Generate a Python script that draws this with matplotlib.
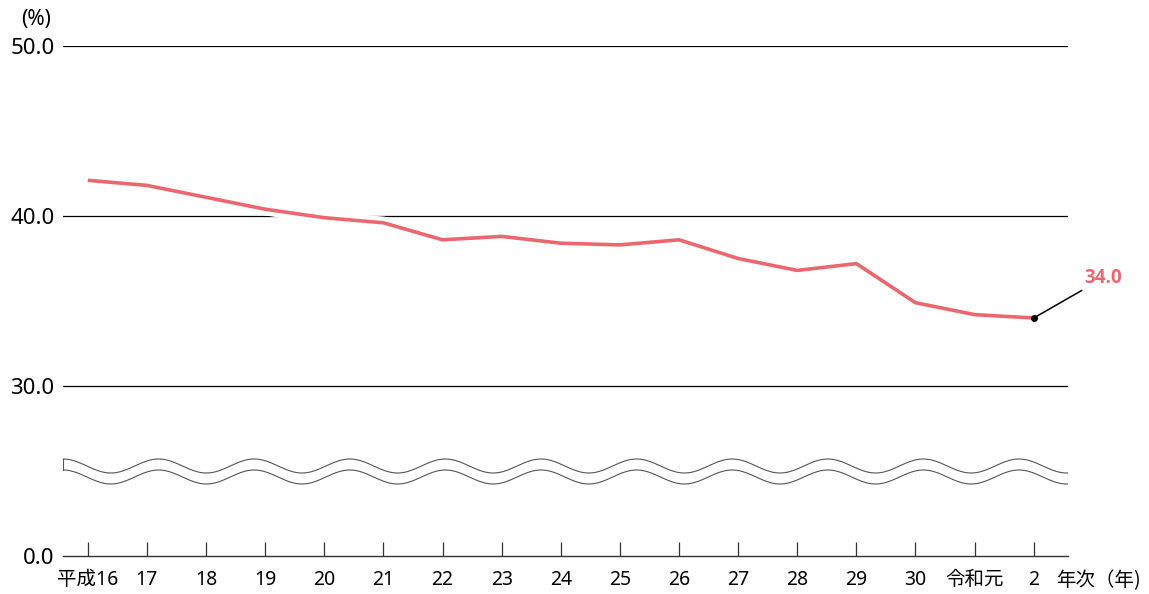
import numpy as np
import matplotlib
matplotlib.use("Agg")
import matplotlib.pyplot as plt
import matplotlib.patheffects as pe

plt.rcParams['font.family'] = ['Noto Sans', 'Noto Sans CJK JP', 'DejaVu Sans']

years = ["平成16", "17", "18", "19", "20", "21", "22", "23", "24", "25",
         "26", "27", "28", "29", "30", "令和元", "2"]
values = [42.1, 41.8, 41.1, 40.4, 39.9, 39.6, 38.6, 38.8, 38.4, 38.3,
          38.6, 37.5, 36.8, 37.2, 34.9, 34.2, 34.0]
yticks = [0.0, 30.0, 40.0, 50.0]
last_label = "34.0"

line_color = "#EB6770"


def fwd(v):
    v = np.asarray(v, dtype=float)
    return np.where(v >= 30, v, 20 + v / 3.0)


def inv(p):
    p = np.asarray(p, dtype=float)
    return np.where(p >= 30, p, (p - 20) * 3.0)


fig = plt.figure(figsize=(11.49, 5.94), dpi=100)
ax = fig.add_axes([63 / 1149, 1 - 556 / 594, (1068 - 63) / 1149, (556 - 46) / 594])
ax.set_yscale('function', functions=(fwd, inv))
x = np.arange(len(years))
ax.set_xlim(-0.42, len(years) - 1 + 0.58)
ax.set_ylim(0, 50)

for s in ['left', 'right', 'top']:
    ax.spines[s].set_visible(False)
ax.spines['bottom'].set_color('#333333')
ax.spines['bottom'].set_linewidth(1.0)

for g in [30, 40, 50]:
    ax.axhline(g, color='black', lw=0.9, zorder=1)

ax.set_yticks(yticks)
ax.set_yticklabels([f"{v:.1f}" for v in yticks], fontsize=16)
ax.tick_params(axis='y', length=0, pad=6)
ax.set_xticks(x)
ax.set_xticklabels(years, fontsize=14)
ax.tick_params(axis='x', direction='in', length=10, width=0.9, color='#333333', pad=10)

# wave break
xs = np.linspace(-0.42, len(years) - 1 + 0.58, 800)
px = (xs - (-0.42)) / (len(years)) * 1005.0
period = 95.6
wave = np.cos(2 * np.pi * px / period)
top = 40 - (466 - 216) / 17.0 + (7 / 17.0) * wave
bot = 40 - (477 - 216) / 17.0 + (7 / 17.0) * wave
top_v = inv(top)
bot_v = inv(bot)
wave_col = '#555555'
ax.fill_between(xs, bot_v, top_v, color='white', zorder=2)
ax.plot(xs, top_v, color=wave_col, lw=0.8, zorder=3)
ax.plot(xs, bot_v, color=wave_col, lw=0.8, zorder=3)
ax.plot([xs[0], xs[0]], [bot_v[0], top_v[0]], color=wave_col, lw=0.8, zorder=3)
ax.plot([xs[-1], xs[-1]], [bot_v[-1], top_v[-1]], color=wave_col, lw=0.8, zorder=3)

ax.plot(x, values, color=line_color, lw=2.6, zorder=5, solid_capstyle='butt',
        path_effects=[pe.Stroke(linewidth=9, foreground='white'), pe.Normal()])

ax.annotate(last_label, xy=(x[-1], values[-1]), xytext=(x[-1] + 0.86, 36.35),
            color=line_color, fontsize=13.5, fontweight='bold',
            family=['Open Sans', 'DejaVu Sans'],
            ha='left', va='center', annotation_clip=False,
            arrowprops=dict(arrowstyle='-', color='black', lw=1.1, shrinkA=0, shrinkB=0),
            zorder=6)
ax.plot([x[-1]], [values[-1]], 'o', color='black', ms=4, zorder=7)

fig.text(36 / 1149, 1 - 19 / 594, "(%)", fontsize=15, ha='center', va='center')
fig.text(1056 / 1149, 1 - 581 / 594, "年次（年)", fontsize=14, ha='left', va='center',
         family=['Noto Sans CJK JP', 'DejaVu Sans'])

fig.savefig("out.png", dpi=100)
